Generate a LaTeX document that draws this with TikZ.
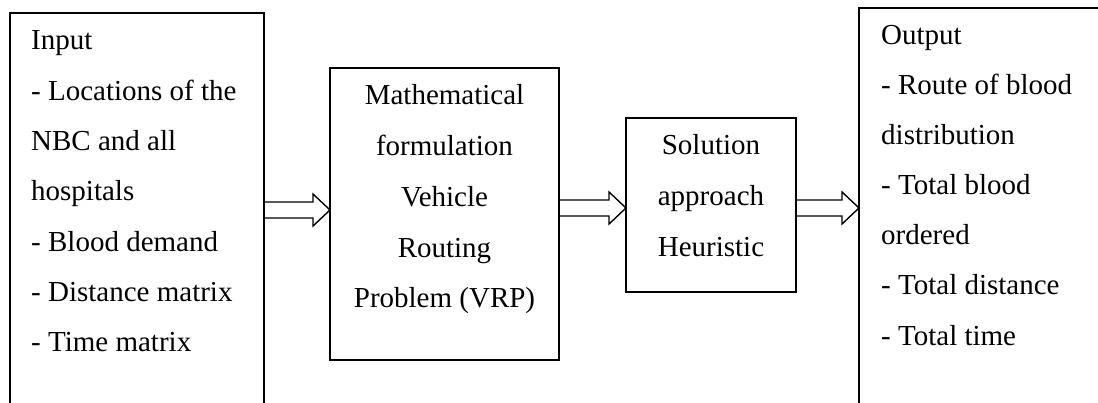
\documentclass[tikz,border=0pt]{standalone}
\usepackage{fontspec}
\setmainfont{Liberation Serif}
\usetikzlibrary{calc}

\tikzset{
  box/.style={draw, line width=1.4pt, inner sep=0pt, outer sep=0pt, anchor=north west},
  boxline/.style={font=\fontsize{29}{35}\selectfont, inner sep=0pt},
  arrowline/.style={draw, line width=1.4pt, line join=miter},
}
% hollow block arrow from #1 to #2 at height #3
\newcommand{\blockarrow}[3]{%
  \draw[arrowline] (#1.east |- 0,#3-8) -- ($(#2.west |- 0,#3-8)+(-17,0)$)
    -- ($(#2.west |- 0,#3-16)+(-17,0)$) -- (#2.west |- 0,#3)
    -- ($(#2.west |- 0,#3+16)+(-17,0)$) -- ($(#2.west |- 0,#3+8)+(-17,0)$)
    -- (#1.east |- 0,#3+8);}

\begin{document}
\begin{tikzpicture}[x=1pt, y=-1pt]
  \useasboundingbox (0,0) rectangle (1098,403);
  \clip (0,0) rectangle (1098,403);

  \node[box, minimum width=254, minimum height=420] (inbox) at (10,13) {};
  \node[box, minimum width=229, minimum height=292] (vrp) at (330,68) {};
  \node[box, minimum width=170, minimum height=174] (sol) at (626,118) {};
  \node[box, minimum width=260, minimum height=420] (outbox) at (859,8) {};

  \foreach \t [count=\i] in {Input, - Locations of the, NBC and all, hospitals,
      - Blood demand, - Distance matrix, - Time matrix}
    \node[boxline, anchor=base west] (in\i) at ($(inbox.north west)+(21,{37+50.3*(\i-1)})$) {\t};

  \foreach \t [count=\i] in {Mathematical, formulation, Vehicle, Routing, {Problem (VRP)}}
    \node[boxline, anchor=base] (vrp\i) at ($(vrp.north)+(0,{37+50.7*(\i-1)})$) {\t};

  \foreach \t [count=\i] in {Solution, approach, Heuristic}
    \node[boxline, anchor=base] (sol\i) at ($(sol.north)+(0,{37+50.7*(\i-1)})$) {\t};

  \foreach \t [count=\i] in {Output, - Route of blood, distribution, - Total blood,
      ordered, - Total distance, - Total time}
    \node[boxline, anchor=base west] (out\i) at ($(outbox.north west)+(22,{37+50*(\i-1)})$) {\t};

  \blockarrow{inbox}{vrp}{210}
  \blockarrow{vrp}{sol}{208}
  \blockarrow{sol}{outbox}{208}
\end{tikzpicture}
\end{document}
